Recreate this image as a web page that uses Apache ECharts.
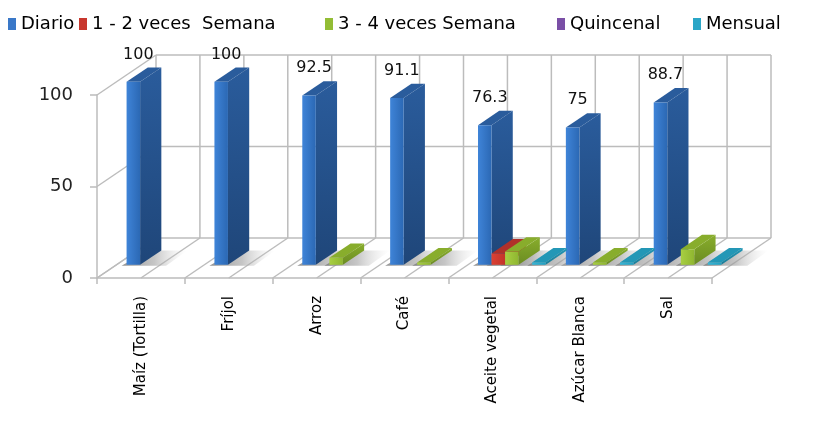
<!DOCTYPE html>
<html>
<head>
<meta charset="utf-8">
<script src="https://cdn.jsdelivr.net/npm/echarts@6/dist/echarts.min.js"></script>
<style>
  html, body { margin: 0; padding: 0; background: #fff; }
  #chart { width: 824px; height: 437px; }
</style>
</head>
<body>
<div id="chart"></div>
<script>
var categories = ['Maíz (Tortilla)', 'Fríjol', 'Arroz', 'Café', 'Aceite vegetal', 'Azúcar Blanca', 'Sal'];
var seriesNames = ['Diario', '1 - 2 veces  Semana', '3 - 4 veces Semana', 'Quincenal', 'Mensual'];
var diario = [100, 100, 92.5, 91.1, 76.3, 75, 88.7];
var unoDos = [0, 0, 0, 0, 6.2, 0, 0];
var tresCuatro = [0, 0, 3.8, 1.3, 7.2, 1.3, 8.5];
var quincenal = [0, 0, 0, 0, 0, 0, 0];
var mensual = [0, 0, 0, 0, 1.3, 1.3, 1.3];
var yTicks = [0, 50, 100];

var allValues = [diario, unoDos, tresCuatro, quincenal, mensual];

// colours: [front light, front dark, side, top, legend]
var palette = [
  ['#3f84d8', '#2b68b4', '#1f4679', '#2a5c9c', '#3a78c8'],
  ['#dc4134', '#c2342a', '#962820', '#b0302a', '#c8372d'],
  ['#a8cf42', '#8fb630', '#6b8c22', '#88ad2c', '#93bd35'],
  ['#8a5db8', '#7048a0', '#4f3275', '#64408f', '#7a4fa6'],
  ['#38b6d6', '#22a0c2', '#1a7d98', '#2397b6', '#2aa6c7']
];

// depth of the 3d box in pixels, and where the bars sit in it
var DX = 59, DY = -40;
var T1 = 0.33, T2 = 0.69;
var SLOT = 0.154;

var chartDom = document.getElementById('chart');
var myChart = echarts.init(chartDom);
var option;

function frame(params, api) {
  var cs = params.coordSys;
  var cw = api.size([1, 0])[0];
  var L = cs.x, R = cs.x + cs.width;
  var y0 = api.coord([0, 0])[1];
  var lineStyle = { stroke: '#bcbcbc', lineWidth: 1.5, fill: null };
  var kids = [];
  function ln(x1, y1, x2, y2) {
    kids.push({ type: 'line', shape: { x1: x1, y1: y1, x2: x2, y2: y2 }, style: lineStyle });
  }
  yTicks.forEach(function (t) {
    var y = api.coord([0, t])[1];
    ln(L, y, L + DX, y + DY);
    ln(L + DX, y + DY, R + DX, y + DY);
  });
  var yTop = api.coord([0, yTicks[yTicks.length - 1]])[1];
  for (var i = 0; i <= categories.length * 2; i++) {
    var x = L + i * cw / 2;
    ln(x, y0, x + DX, y0 + DY);
    ln(x + DX, y0 + DY, x + DX, yTop + DY);
  }
  return { type: 'group', children: kids };
}

function shadow(params, api) {
  var cat = api.value(0), k = api.value(1);
  var cw = api.size([1, 0])[0];
  var c = api.coord([cat, 0]);
  var bw = cw * SLOT;
  var x0 = c[0] - 2.5 * bw + k * bw;
  var x1 = x0 + bw + 26;
  var yb = c[1];
  return {
    type: 'polygon',
    shape: { points: [
      [x0 + T1 * DX - 5, yb + T1 * DY + 1], [x1 + T1 * DX, yb + T1 * DY + 1],
      [x1 + T2 * DX, yb + T2 * DY], [x0 + T2 * DX, yb + T2 * DY]
    ] },
    style: { fill: new echarts.graphic.LinearGradient(0, 0, 1, 0, [
      { offset: 0, color: 'rgba(120,120,120,0.8)' },
      { offset: 0.5, color: 'rgba(160,160,160,0.6)' },
      { offset: 1, color: 'rgba(220,220,220,0)' }
    ]) }
  };
}

function makeBox(k) {
  return function (params, api) {
    var v = api.value(1);
    if (!v) return;
    var cat = api.value(0);
    var cw = api.size([1, 0])[0];
    var b = api.coord([cat, 0]);
    var t = api.coord([cat, v]);
    var bw = cw * SLOT;
    var x0 = b[0] - 2.5 * bw + k * bw, x1 = x0 + bw;
    var yb = b[1], yt = t[1];
    var p = palette[k];
    var f1x = T1 * DX, f1y = T1 * DY, f2x = T2 * DX, f2y = T2 * DY;
    var kids = [
      { type: 'polygon', shape: { points: [[x1 + f1x, yb + f1y], [x1 + f2x, yb + f2y], [x1 + f2x, yt + f2y], [x1 + f1x, yt + f1y]] },
        style: { fill: new echarts.graphic.LinearGradient(0, 0, 0, 1, [
          { offset: 0, color: p[3] }, { offset: 1, color: p[2] }]) } },
      { type: 'polygon', shape: { points: [[x0 + f1x, yt + f1y], [x1 + f1x, yt + f1y], [x1 + f2x, yt + f2y], [x0 + f2x, yt + f2y]] },
        style: { fill: p[3] } },
      { type: 'rect', shape: { x: x0 + f1x, y: yt + f1y, width: bw, height: yb - yt },
        style: { fill: new echarts.graphic.LinearGradient(0, 0, 1, 0, [
          { offset: 0, color: p[0] }, { offset: 1, color: p[1] }]) } }
    ];
    if (k === 0) {
      kids.push({ type: 'text', x: x0 + f1x + bw / 2 + 5, y: yt + f2y - 13,
        style: { text: String(v), fontFamily: 'DejaVu Sans', fontSize: 16, fill: '#111',
          align: 'center', verticalAlign: 'middle' } });
    }
    return { type: 'group', children: kids };
  };
}

var shadowData = [];
allValues.forEach(function (arr, k) {
  arr.forEach(function (v, i) { if (v > 0) shadowData.push([i, k]); });
});

var series = [
  { name: 'frame', type: 'custom', renderItem: frame, data: [[0, 0]], silent: true, z: 1 },
  { name: 'sombra', type: 'custom', renderItem: shadow, data: shadowData, silent: true, z: 1 }
];
seriesNames.forEach(function (name, k) {
  series.push({
    name: name,
    type: 'custom',
    renderItem: makeBox(k),
    itemStyle: { color: palette[k][4] },
    data: allValues[k].map(function (v, i) { return [i, v]; }),
    z: 2
  });
});

var legendLeft = [3, 74, 320, 552, 688];
var legends = seriesNames.map(function (name, k) {
  return {
    data: [name],
    left: legendLeft[k],
    top: 10,
    icon: 'rect',
    itemWidth: 8,
    itemHeight: 12,
    selectedMode: false,
    textStyle: { fontFamily: 'DejaVu Sans', fontSize: 18, color: '#000' }
  };
});

option = {
  animation: false,
  backgroundColor: '#fff',
  legend: legends,
  grid: { left: 97, right: 112, top: 95, bottom: 159 },
  xAxis: {
    type: 'category',
    data: categories,
    boundaryGap: true,
    axisLine: { lineStyle: { color: '#bcbcbc', width: 1.5 } },
    axisTick: { show: true, length: 6, lineStyle: { color: '#bcbcbc', width: 1.5 } },
    axisLabel: { rotate: 90, margin: 18, fontFamily: 'DejaVu Sans', fontSize: 15, color: '#000' },
    splitLine: { show: false }
  },
  yAxis: {
    type: 'value',
    min: 0,
    max: 100,
    interval: 50,
    axisLine: { show: true, lineStyle: { color: '#bcbcbc', width: 1.5 } },
    axisTick: { show: true, length: 7, lineStyle: { color: '#bcbcbc', width: 1.5 } },
    axisLabel: { margin: 24, fontFamily: 'DejaVu Sans', fontSize: 18, color: '#222' },
    splitLine: { show: false }
  },
  series: series
};

option && myChart.setOption(option);
</script>
</body>
</html>
